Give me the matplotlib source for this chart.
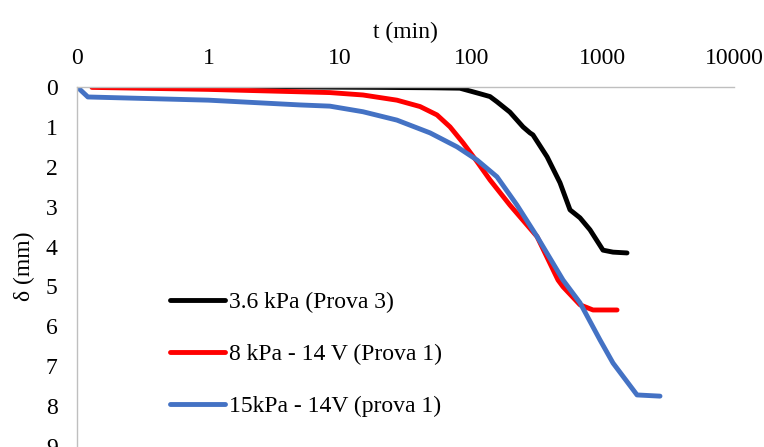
import matplotlib
matplotlib.use("Agg")
import matplotlib.pyplot as plt
from matplotlib.ticker import FixedLocator, FixedFormatter, NullLocator

plt.rcParams['font.family'] = ['Liberation Serif', 'DejaVu Serif']

# Series data (t in min, delta in mm)
t_36 = [1.2, 5, 20, 50, 82, 98, 117, 139, 157, 197, 248, 280, 295, 378, 474, 565, 673, 802, 1007, 1200, 1534]
d_36 = [0.0, 0.0, 0.01, 0.02, 0.03, 0.10, 0.17, 0.24, 0.37, 0.63, 1.0, 1.15, 1.2, 1.75, 2.40, 3.08, 3.28, 3.58, 4.09, 4.14, 4.16]

t_8 = [0.13, 1, 8.4, 15, 27.2, 40.8, 54.9, 69, 86.7, 110.7, 139, 197, 317, 458, 500, 673, 845, 1288]
d_8 = [0.01, 0.06, 0.14, 0.20, 0.33, 0.49, 0.70, 1.0, 1.40, 1.87, 2.33, 2.96, 3.75, 4.84, 5.01, 5.46, 5.59, 5.59]

t_15 = [0.102, 0.121, 0.267, 1, 5, 8.4, 15, 27.2, 48.6, 78, 110.7, 157, 223, 317, 500, 673, 955, 1200, 1828, 2735]
d_15 = [0.02, 0.25, 0.28, 0.33, 0.45, 0.48, 0.62, 0.83, 1.15, 1.50, 1.83, 2.25, 2.96, 3.75, 4.84, 5.41, 6.34, 6.92, 7.72, 7.75]

labels = ["3.6 kPa (Prova 3)", "8 kPa - 14 V (Prova 1)", "15kPa - 14V (prova 1)"]
colors = ["#000000", "#FF0000", "#4472C4"]

x_ticks = [0.1, 1, 10, 100, 1000, 10000]
x_ticklabels = ["0", "1", "10", "100", "1000", "10000"]
y_ticks = [0, 1, 2, 3, 4, 5, 6, 7, 8, 9]

FS = 17

fig = plt.figure(figsize=(7.64, 4.47), dpi=100)
ax = fig.add_axes([77/764, 1 - 446/447, (734-77)/764, (446-87)/447])

for t, d, lab, c in zip([t_36, t_8, t_15], [d_36, d_8, d_15], labels, colors):
    ax.plot(t, d, color=c, lw=3.5, label=lab, solid_capstyle='round', solid_joinstyle='round')

ax.set_xscale('log')
ax.set_xlim(0.1, 10000)
ax.set_ylim(9, 0)
ax.xaxis.set_major_locator(FixedLocator(x_ticks))
ax.xaxis.set_major_formatter(FixedFormatter(x_ticklabels))
ax.xaxis.set_minor_locator(NullLocator())
ax.set_yticks(y_ticks)
ax.xaxis.tick_top()
ax.xaxis.set_label_position('top')
ax.tick_params(axis='both', length=0, labelsize=FS)
ax.tick_params(axis='x', pad=13)
ax.tick_params(axis='y', pad=14)

for s in ['right', 'bottom']:
    ax.spines[s].set_visible(False)
for s in ['left', 'top']:
    ax.spines[s].set_color('#BFBFBF')
    ax.spines[s].set_linewidth(1.0)

ax.set_xlabel('t (min)', fontsize=FS, labelpad=7)
ax.set_ylabel('δ (mm)', fontsize=FS, labelpad=8)

ax.legend(loc='center left', bbox_to_anchor=(170/764, 1 - 354.5/447), bbox_transform=fig.transFigure,
          frameon=False, fontsize=FS, borderpad=0, borderaxespad=0, handlelength=2.35,
          handletextpad=0.13, labelspacing=1.3)

fig.savefig('out.png', dpi=100)
